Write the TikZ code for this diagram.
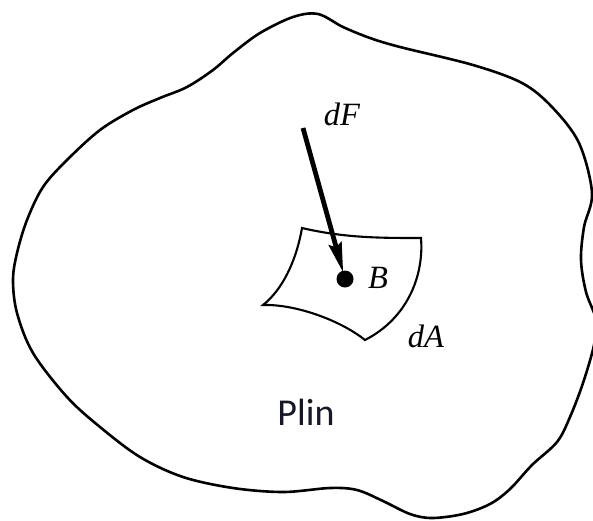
\documentclass[tikz,border=0pt]{standalone}
\usepackage{fontspec}
\setmainfont{Liberation Serif}
\newfontfamily\plinfont{Carlito}
\usetikzlibrary{arrows.meta}
\tikzset{
  outline/.style={line width=2.6pt, line join=round},
  patch/.style={line width=2.1pt, line join=miter},
  lbl/.style={font=\fontsize{32.5}{38}\selectfont\itshape, inner sep=0pt, anchor=base},
  plinlbl/.style={font=\plinfont\fontsize{38}{44}\selectfont, text={rgb,255:red,22;green,24;blue,40}, inner sep=0pt, anchor=base},
  dotnode/.style={circle, fill=black, inner sep=0pt, minimum size=17pt},
  force/.style={line width=4.8pt, -{Stealth[length=30pt,width=13pt,inset=4pt]}, shorten >=-2pt}
}
\begin{document}
\begin{tikzpicture}[x=1pt,y=-1pt]
\useasboundingbox (0,0) rectangle (593,520);
\fill[white] (0,0) rectangle (593,520);
% outer body
\draw[outline] plot[smooth cycle, tension=0.55] coordinates {
 (318,14) (343,27) (370,38) (400,47) (473,65) (522,83) (552,107) (579,143)
 (592,193) (584,227) (581,260) (586,292) (596,320) (594,345) (583,383)
 (570,417) (557,442) (532,465) (510,489) (490,504) (463,514) (432,518)
 (410,514) (383,501) (357,490) (330,488) (283,492) (233,488) (183,477)
 (140,457) (100,427) (67,397) (33,353) (17,313) (13,280) (17,253) (27,220)
 (43,187) (67,160) (100,130) (133,110) (160,98) (187,87) (213,70) (233,53)
 (260,33) (293,17)};
% small area dA
\coordinate (TL) at (302,228);
\coordinate (TR) at (421,238);
\coordinate (BR) at (365,340);
\coordinate (BL) at (263,305);
\draw[patch] (TL) .. controls (345,238) and (380,238) .. (TR)
  .. controls (424,275) and (408,318) .. (BR)
  .. controls (340,320) and (295,304) .. (BL)
  .. controls (282,290) and (296,262) .. cycle;
% point B and force
\node[dotnode] (B) at (345,279) {};
\coordinate (Fs) at (303,128);
\draw[force] (Fs) -- (B);
% labels
\node[lbl] (dF) at (342,125) {dF};
\node[lbl] (Bl) at (378,288) {B};
\node[lbl] (dA) at (426,347) {dA};
\node[plinlbl] (plin) at (306,425) {Plin};
\end{tikzpicture}
\end{document}
